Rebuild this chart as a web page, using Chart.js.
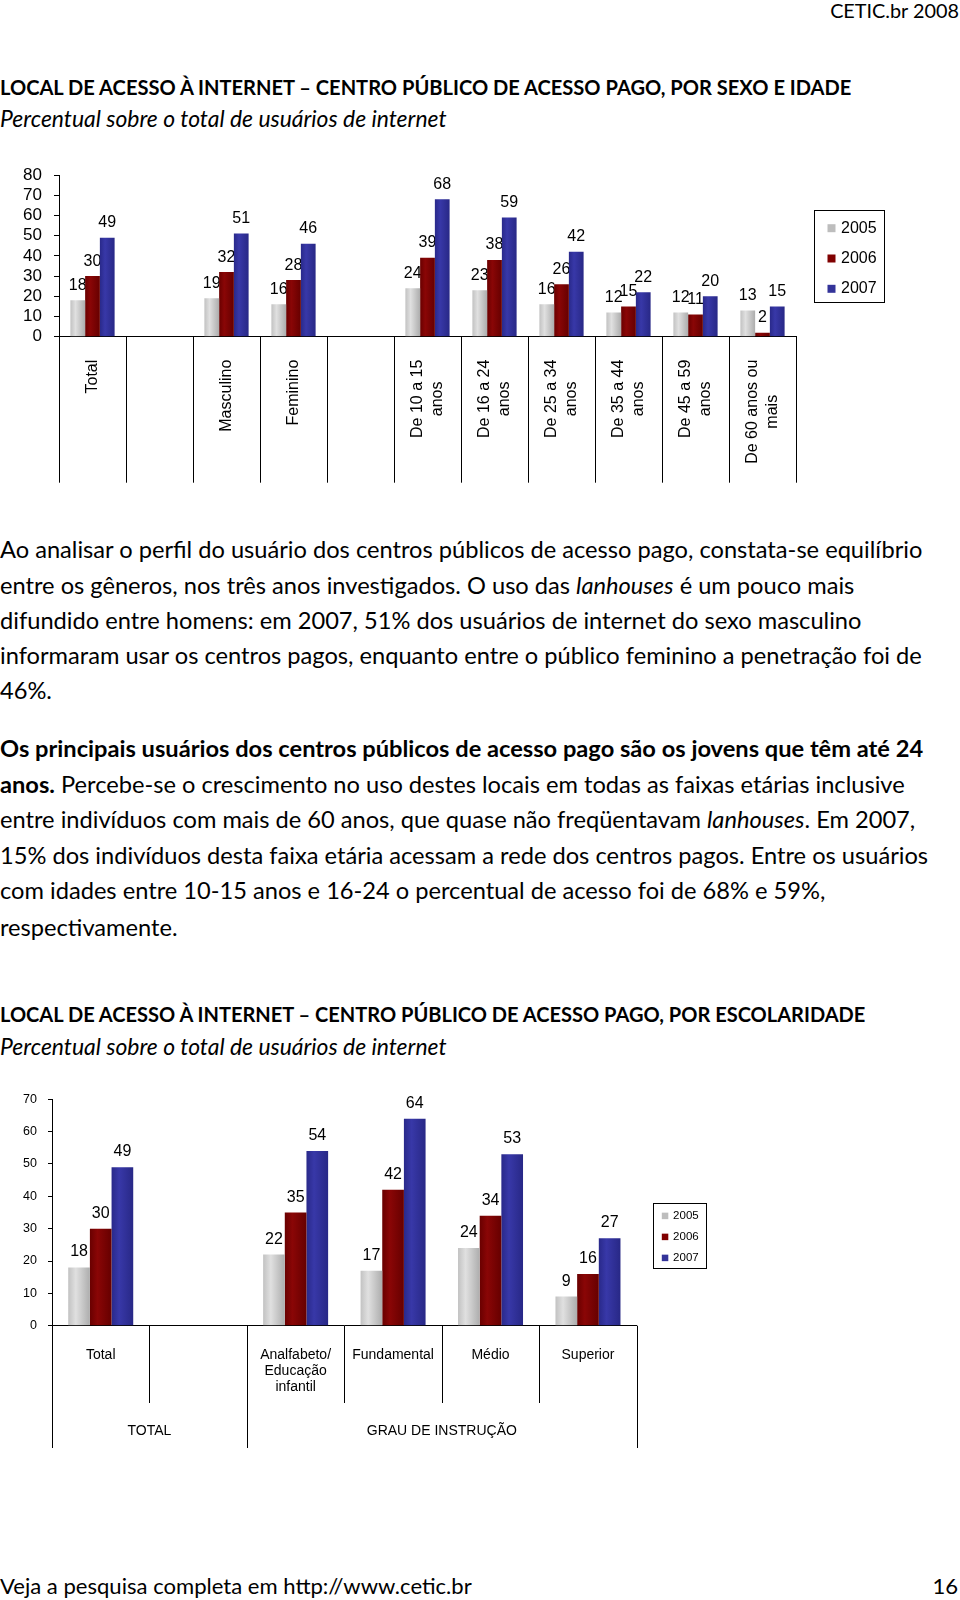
<!DOCTYPE html>
<html lang="pt-BR">
<head>
<meta charset="utf-8">
<title>CETIC.br 2008 - Centro público de acesso pago</title>
<script src="https://cdn.jsdelivr.net/npm/chart.js@4.4.1/dist/chart.umd.min.js"></script>
<style>
  html, body { margin: 0; padding: 0; background: #fff; }
  #page { position: relative; width: 960px; height: 1600px; overflow: hidden; color: #000;
          font-family: Lato, 'Open Sans', sans-serif; font-size: 22px; }
  .ln { position: absolute; left: 0; top: 0; white-space: nowrap; line-height: 1; }
  .b { font-weight: bold; }
  .i { font-style: italic; }
  canvas { position: absolute; left: 0; }
</style>
</head>
<body>
<div id="page">
  <div class="ln" data-grp="hdr" data-fit="129" data-b="18.3" style="left:auto;right:1px">CETIC.br 2008</div>

  <div class="ln b" data-grp="t1" data-fit="852" data-b="94.6">LOCAL DE ACESSO À INTERNET – CENTRO PÚBLICO DE ACESSO PAGO, POR SEXO E IDADE</div>
  <div class="ln i" data-grp="s1" data-fit="447" data-b="126.8">Percentual sobre o total de usuários de internet</div>

  <canvas id="sexAgeChart" width="960" height="350" style="top:150px"></canvas>

  <div class="ln" data-grp="p" data-fit="923" data-b="558.3">Ao analisar o perfil do usuário dos centros públicos de acesso pago, constata-se equilíbrio</div>
  <div class="ln" data-grp="p" data-b="593.5">entre os gêneros, nos três anos investigados. O uso das <i>lanhouses</i> é um pouco mais</div>
  <div class="ln" data-grp="p" data-b="628.7">difundido entre homens: em 2007, 51% dos usuários de internet do sexo masculino</div>
  <div class="ln" data-grp="p" data-b="663.9">informaram usar os centros pagos, enquanto entre o público feminino a penetração foi de</div>
  <div class="ln" data-grp="p" data-b="699.1">46%.</div>

  <div class="ln" data-grp="p" data-b="757.3"><b>Os principais usuários dos centros públicos de acesso pago são os jovens que têm até 24</b></div>
  <div class="ln" data-grp="p" data-b="792.7"><b>anos.</b> Percebe-se o crescimento no uso destes locais em todas as faixas etárias inclusive</div>
  <div class="ln" data-grp="p" data-b="828.1">entre indivíduos com mais de 60 anos, que quase não freqüentavam <i>lanhouses</i>. Em 2007,</div>
  <div class="ln" data-grp="p" data-b="863.5">15% dos indivíduos desta faixa etária acessam a rede dos centros pagos. Entre os usuários</div>
  <div class="ln" data-grp="p" data-b="898.9">com idades entre 10-15 anos e 16-24 o percentual de acesso foi de 68% e 59%,</div>
  <div class="ln" data-grp="p" data-b="935.5">respectivamente.</div>

  <div class="ln b" data-grp="t2" data-fit="866" data-b="1022">LOCAL DE ACESSO À INTERNET – CENTRO PÚBLICO DE ACESSO PAGO, POR ESCOLARIDADE</div>
  <div class="ln i" data-grp="s2" data-fit="447" data-b="1054.5">Percentual sobre o total de usuários de internet</div>

  <canvas id="eduChart" width="960" height="400" style="top:1060px"></canvas>

  <div class="ln" data-grp="ft" data-fit="472" data-b="1594">Veja a pesquisa completa em http://www.cetic.br</div>
  <div class="ln" data-grp="ft" data-b="1594" style="left:auto;right:2px">16</div>
</div>

<script>
// ---- dados: sexo e idade ----
const seriesNames = ['2005', '2006', '2007'];

const sexAgeLabels = ['Total', '', 'Masculino', 'Feminino', '',
    ['De 10 a 15', 'anos'], ['De 16 a 24', 'anos'], ['De 25 a 34', 'anos'],
    ['De 35 a 44', 'anos'], ['De 45 a 59', 'anos'], ['De 60 anos ou', 'mais']];
const sexAge2005 = [18, null, 19, 16, null, 24, 23, 16, 12, 12, 13];
const sexAge2006 = [30, null, 32, 28, null, 39, 38, 26, 15, 11, 2];
const sexAge2007 = [49, null, 51, 46, null, 68, 59, 42, 22, 20, 15];
const sexAgeTicks = [0, 10, 20, 30, 40, 50, 60, 70, 80];

// ---- dados: escolaridade ----
const eduLabels = ['Total', '', ['Analfabeto/', 'Educação', 'infantil'], 'Fundamental', 'Médio', 'Superior'];
const edu2005 = [18, null, 22, 17, 24, 9];
const edu2006 = [30, null, 35, 42, 34, 16];
const edu2007 = [49, null, 54, 64, 53, 27];
const eduTicks = [0, 10, 20, 30, 40, 50, 60, 70];
const eduGroups = [
    { text: 'TOTAL', from: 0, to: 2 },
    { text: 'GRAU DE INSTRUÇÃO', from: 2, to: 6 }
];

const ARIAL = "'Liberation Sans', Arial, sans-serif";

// degradê estilo Excel 2007 para cada série
const barStops = [
    ['#c2c2c2', '#e0e0e0', '#adadad'],
    ['#690000', '#8a0606', '#660000'],
    ['#29298a', '#3838a8', '#282886']
];
const swatches = ['#bdbdbd', '#800000', '#333399'];

function barFill(seriesIndex, group) {
    const stops = barStops[seriesIndex];
    return (c) => {
        const chart = c.chart;
        const xs = chart.scales && chart.scales.x;
        if (!xs || c.dataIndex === undefined) return stops[1];
        const catW = (xs.right - xs.left) / chart.data.labels.length;
        const barW = catW * group / 3;
        const cx = xs.getPixelForValue(c.dataIndex) + (seriesIndex - 1) * barW;
        if (!isFinite(cx) || !isFinite(barW)) return stops[1];
        const g = chart.ctx.createLinearGradient(cx - barW / 2, 0, cx + barW / 2, 0);
        g.addColorStop(0, stops[0]);
        g.addColorStop(0.35, stops[1]);
        g.addColorStop(1, stops[2]);
        return g;
    };
}

// rótulos de valor, divisórias do eixo, categorias e legenda em caixa
function excelDecor(o) {
    return {
        id: 'excelDecor',
        beforeDatasetsDraw(chart) {
            const ctx = chart.ctx;
            ctx.save();
            ctx.font = o.valueFont + 'px ' + ARIAL;
            ctx.fillStyle = '#000';
            ctx.textAlign = 'center';
            ctx.textBaseline = 'alphabetic';
            chart.data.datasets.forEach((ds, i) => {
                chart.getDatasetMeta(i).data.forEach((bar, j) => {
                    const v = ds.data[j];
                    if (v === null || v === undefined) return;
                    ctx.fillText(String(v), bar.x, bar.y - o.valueGap);
                });
            });
            ctx.restore();
        },
        afterDraw(chart) {
            const ctx = chart.ctx;
            const xs = chart.scales.x;
            const n = chart.data.labels.length;
            const catW = (xs.right - xs.left) / n;
            const axisY = xs.top;

            ctx.save();
            ctx.strokeStyle = '#000';
            ctx.lineWidth = 1;
            for (let i = 0; i <= n; i++) {
                const x = Math.round(xs.left + i * catW) + 0.5;
                ctx.beginPath();
                ctx.moveTo(x, axisY);
                ctx.lineTo(x, axisY + o.dividerLength(i));
                ctx.stroke();
            }

            ctx.font = o.catFont + 'px ' + ARIAL;
            ctx.fillStyle = '#000';
            chart.data.labels.forEach((lab, j) => {
                const lines = [].concat(lab).filter(s => s);
                if (!lines.length) return;
                const x = xs.getPixelForValue(j);
                if (o.rotated) {
                    const maxW = Math.max(...lines.map(s => ctx.measureText(s).width));
                    ctx.save();
                    ctx.translate(x, axisY + o.catTop);
                    ctx.rotate(-Math.PI / 2);
                    ctx.textAlign = 'center';
                    ctx.textBaseline = 'middle';
                    lines.forEach((s, k) => ctx.fillText(s, -maxW / 2, (k - (lines.length - 1) / 2) * o.catLine));
                    ctx.restore();
                } else {
                    ctx.textAlign = 'center';
                    ctx.textBaseline = 'alphabetic';
                    lines.forEach((s, k) => ctx.fillText(s, x, axisY + o.catTop + k * o.catLine));
                }
            });

            (o.groups || []).forEach(g => {
                ctx.textAlign = 'center';
                ctx.textBaseline = 'alphabetic';
                ctx.fillText(g.text, xs.left + (g.from + g.to) / 2 * catW, axisY + o.groupTop);
            });

            const L = o.legend;
            const bx = Math.round(xs.right + L.dx) + 0.5;
            const by = Math.round(L.top) + 0.5;
            ctx.strokeRect(bx, by, L.w, L.h);
            ctx.font = L.font + 'px ' + ARIAL;
            ctx.textAlign = 'left';
            ctx.textBaseline = 'middle';
            chart.data.datasets.forEach((ds, i) => {
                const cy = by + L.first + i * L.step;
                ctx.fillStyle = swatches[i];
                ctx.fillRect(bx + L.sx, cy - L.sq / 2, L.sq, L.sq);
                ctx.fillStyle = '#000';
                ctx.fillText(ds.label, bx + L.tx, cy);
            });
            ctx.restore();
        }
    };
}

function makeChart(canvasId, cfg) {
    const datasets = cfg.series.map((data, i) => ({
        label: seriesNames[i],
        data: data,
        backgroundColor: barFill(i, cfg.group),
        borderWidth: 0,
        categoryPercentage: cfg.group,
        barPercentage: 1
    }));
    return new Chart(document.getElementById(canvasId), {
        type: 'bar',
        data: { labels: cfg.labels, datasets: datasets },
        options: {
            responsive: false,
            animation: false,
            events: [],
            layout: { padding: cfg.padding },
            plugins: { legend: { display: false }, tooltip: { enabled: false } },
            scales: {
                x: {
                    grid: { display: false, drawTicks: false },
                    border: { color: '#000', width: 1 },
                    ticks: { display: false },
                    afterFit: (s) => { s.height = cfg.xHeight; }
                },
                y: {
                    min: cfg.ticks[0],
                    max: cfg.ticks[cfg.ticks.length - 1],
                    ticks: {
                        stepSize: cfg.ticks[1] - cfg.ticks[0],
                        autoSkip: false,
                        color: '#000',
                        padding: cfg.tickPad,
                        font: { family: ARIAL, size: cfg.tickFont }
                    },
                    grid: { drawOnChartArea: false, tickLength: cfg.tickLen, color: '#000' },
                    border: { color: '#000', width: 1 },
                    afterFit: (s) => { s.width = cfg.yWidth; }
                }
            }
        },
        plugins: [excelDecor(cfg.decor)]
    });
}

makeChart('sexAgeChart', {
    labels: sexAgeLabels,
    series: [sexAge2005, sexAge2006, sexAge2007],
    ticks: sexAgeTicks,
    group: 0.66,
    padding: { left: 0, right: 164, top: 25, bottom: 17.3 },
    xHeight: 146,
    yWidth: 59,
    tickFont: 17,
    tickPad: 12,
    tickLen: 5,
    decor: {
        valueFont: 16, valueGap: 10.5,
        rotated: true, catFont: 16, catTop: 23, catLine: 19.3,
        dividerLength: () => 146,
        legend: { dx: 17.5, top: 60, w: 70, h: 92, font: 16, first: 17.7, step: 30.3, sx: 13, sq: 8, tx: 26.5 }
    }
});

makeChart('eduChart', {
    labels: eduLabels,
    series: [edu2005, edu2006, edu2007],
    ticks: eduTicks,
    group: 0.667,
    padding: { left: 0, right: 323.3, top: 39.3, bottom: 12 },
    xHeight: 122.3,
    yWidth: 52,
    tickFont: 12.5,
    tickPad: 11,
    tickLen: 4,
    decor: {
        valueFont: 16, valueGap: 11,
        rotated: false, catFont: 14, catTop: 33.3, catLine: 15.8,
        groups: eduGroups, groupTop: 109.5,
        dividerLength: (i) => (i === 0 || i === 2 || i === 6) ? 122.3 : 77.3,
        legend: { dx: 16, top: 143.3, w: 53, h: 65, font: 11.5, first: 12.4, step: 21, sx: 8.3, sq: 6.5, tx: 19.6 }
    }
});

// ---- texto: ajusta largura das linhas e posiciona pela linha de base ----
function layoutText() {
    const groups = {};
    document.querySelectorAll('.ln').forEach(el => {
        (groups[el.dataset.grp] = groups[el.dataset.grp] || []).push(el);
    });
    Object.values(groups).forEach(g => {
        const ref = g.find(el => el.dataset.fit);
        if (!ref) return;
        const w = ref.getBoundingClientRect().width;
        const size = parseFloat(getComputedStyle(ref).fontSize) * Number(ref.dataset.fit) / w;
        g.forEach(el => { el.style.fontSize = size + 'px'; });
    });
    document.querySelectorAll('.ln').forEach(el => {
        const m = document.createElement('span');
        m.style.cssText = 'display:inline-block;width:0;height:0';
        el.appendChild(m);
        const base = m.getBoundingClientRect().top;
        el.style.top = (Number(el.dataset.b) - base) + 'px';
        m.remove();
    });
}
if (document.fonts && document.fonts.ready) {
    document.fonts.ready.then(layoutText);
} else {
    layoutText();
}
</script>
</body>
</html>
